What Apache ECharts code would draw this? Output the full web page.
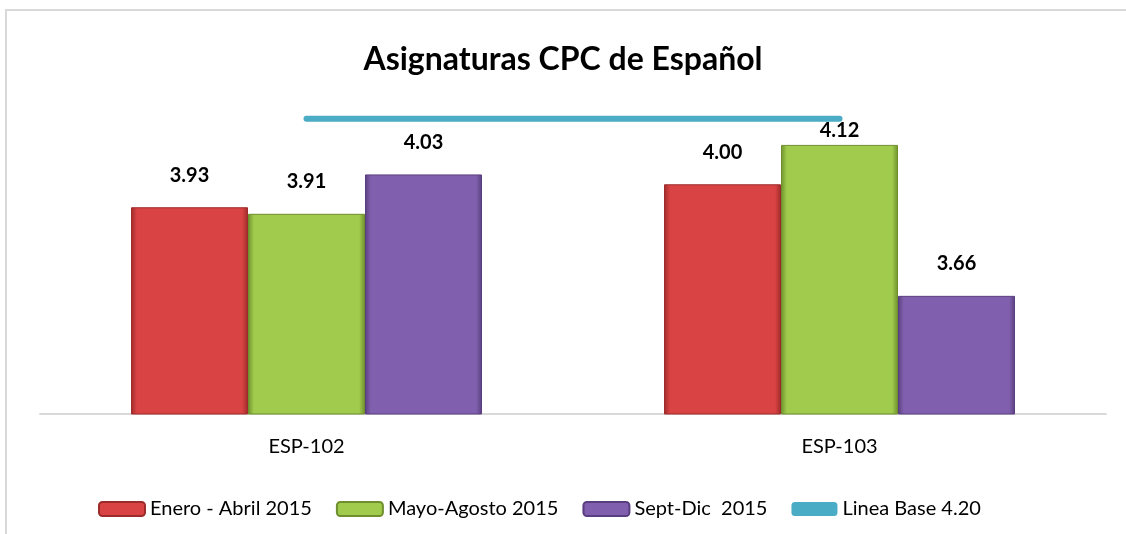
<!DOCTYPE html>
<html>
<head>
<meta charset="utf-8">
<script src="https://cdn.jsdelivr.net/npm/echarts@6/dist/echarts.min.js"></script>
<style>
    html, body { margin: 0; padding: 0; background: #fff; }
    #chart { width: 1126px; height: 534px; }
</style>
</head>
<body>
<div id="chart"></div>
<script>
var categories = ['ESP-102', 'ESP-103'];
var enero = [3.93, 4.00];
var mayo = [3.91, 4.12];
var sept = [4.03, 3.66];
var lineaBase = [4.20, 4.20];

function bevel(light, mid, dark) {
    return new echarts.graphic.LinearGradient(0, 0, 1, 0, [
        { offset: 0, color: dark },
        { offset: 0.05, color: mid },
        { offset: 0.95, color: mid },
        { offset: 1, color: dark }
    ]);
}

function barSeries(name, data, light, mid, dark) {
    return {
        name: name,
        type: 'bar',
        // labels that would collide with the base line sit closer to the bar
        data: data.map(function (v) {
            return v > lineaBase[0] - 0.12 ? { value: v, label: { distance: 4 } } : v;
        }),
        barWidth: 117,
        barGap: '0%',
        itemStyle: {
            color: bevel(light, mid, dark),
            borderColor: dark,
            borderWidth: 1
        },
        label: {
            show: true,
            position: 'top',
            distance: 22,
            formatter: function (p) { return p.value.toFixed(2); },
            fontFamily: 'Lato',
            fontWeight: 'bold',
            fontSize: 20,
            color: '#000'
        }
    };
}

var narrow = { fontFamily: '"Liberation Sans Narrow", Lato', fontSize: 20, color: '#000' };

var chart = echarts.init(document.getElementById('chart'));
var option = {
    backgroundColor: '#fff',
    animation: false,
    title: {
        text: 'Asignaturas CPC de Español',
        left: 'center',
        top: 39,
        textStyle: { fontFamily: 'Lato', fontWeight: 'bold', fontSize: 32, color: '#000' }
    },
    graphic: [{
        type: 'rect',
        shape: { x: 6, y: 10, width: 1200, height: 600 },
        style: { fill: null, stroke: '#d9d9d9', lineWidth: 2 },
        silent: true
    }],
    legend: {
        top: 494,
        left: 93,
        itemWidth: 46,
        itemHeight: 14,
        itemGap: 24,
        textStyle: { fontFamily: 'Lato', fontSize: 20, color: '#000' },
        data: [
            { name: 'Enero - Abril 2015' },
            { name: 'Mayo-Agosto 2015', textStyle: narrow },
            { name: 'Sept-Dic  2015', textStyle: narrow },
            { name: 'Linea Base 4.20', icon: 'roundRect', itemStyle: { color: '#4bacc6' }, textStyle: narrow }
        ]
    },
    grid: { left: 40, right: 20, top: 53, bottom: 120 },
    xAxis: {
        type: 'category',
        data: categories,
        axisTick: { show: false },
        axisLine: { lineStyle: { color: '#d9d9d9', width: 2 } },
        axisLabel: { fontFamily: 'Lato', fontSize: 20, color: '#000', margin: 23 }
    },
    yAxis: {
        type: 'value',
        min: 3.3,
        max: 4.4,
        show: false,
        splitLine: { show: false }
    },
    series: [
        barSeries('Enero - Abril 2015', enero, '#f08080', '#d94343', '#9e2b2b'),
        barSeries('Mayo-Agosto 2015', mayo, '#d0ef8a', '#a0cb4c', '#6f8f2e'),
        barSeries('Sept-Dic  2015', sept, '#b89be0', '#8060ae', '#5a3f80'),
        {
            name: 'Linea Base 4.20',
            type: 'line',
            data: lineaBase,
            symbol: 'none',
            lineStyle: { color: '#4bacc6', width: 6, cap: 'round' },
            itemStyle: { color: '#4bacc6' },
            z: 1
        }
    ]
};
chart.setOption(option);
</script>
</body>
</html>
